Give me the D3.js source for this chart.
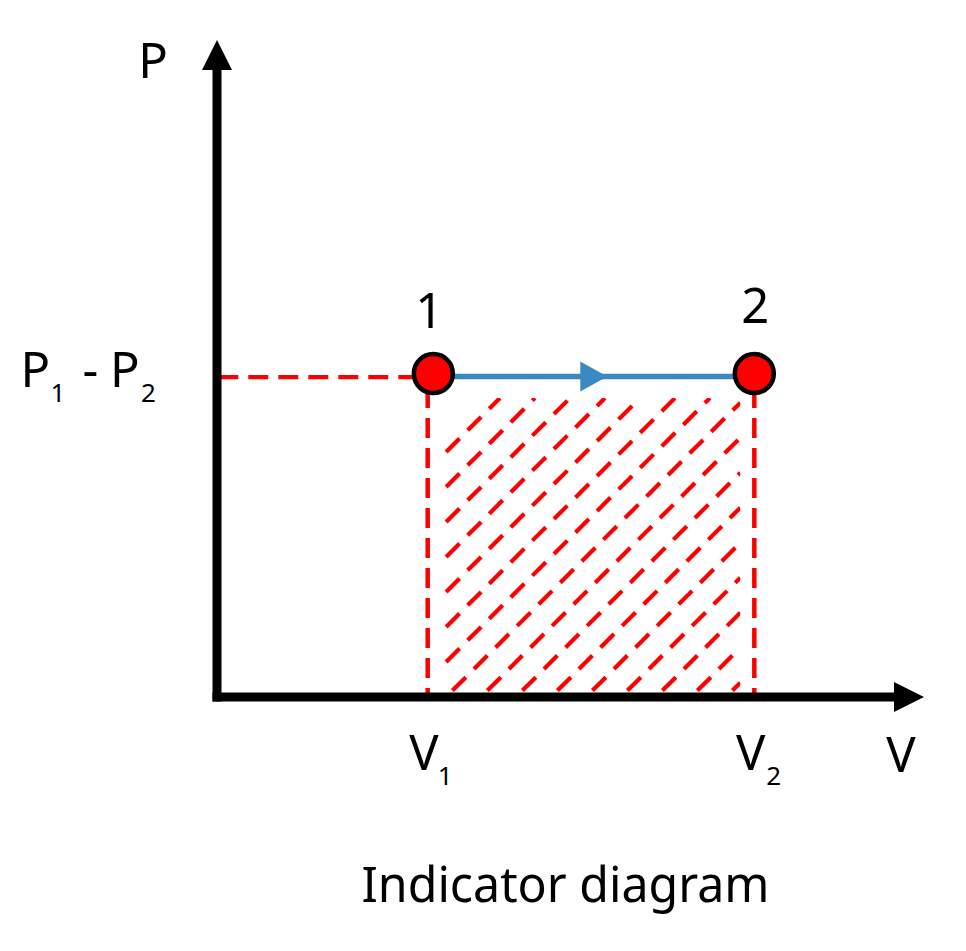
<!DOCTYPE html>
<html>
<head>
<meta charset="utf-8">
<script src="https://cdn.jsdelivr.net/npm/d3@7"></script>
<style>
  html, body { margin: 0; padding: 0; background: #ffffff; }
  svg { display: block; }
  text { font-family: "Noto Sans", "Open Sans", sans-serif; fill: #000; }
</style>
</head>
<body>
<script>
// ---- data ----
const stateLabels = ["1", "2"];
const stateV = [30.6, 76];        // volume of state points
const stateP = [49, 49];          // pressure of state points (constant)
const boundV = [29.8, 76];        // V1, V2 drop lines
const boundVLabels = ["V", "V"];
const boundVSubs = ["1", "2"];
const pLevel = 49;                // P1 - P2 level
const pLevelParts = ["P", "1", "-", "P", "2"];
const axisLabels = ["P", "V"];
const title = "Indicator diagram";

// ---- setup ----
const W = 966, H = 951;
const svg = d3.select("body").append("svg").attr("width", W).attr("height", H);

const x = d3.scaleLinear().domain([0, 100]).range([217, 924]);
const y = d3.scaleLinear().domain([0, 100]).range([697, 40]);

const RED = "#ff0000";
const BLUE = "#3a89c2";
const AX = 9, HEAD = 30, HALF = 15;

// ---- hatch (area under the process) ----
const hx0 = x(boundV[0]) + 17, hx1 = x(boundV[1]) - 14;
const hy0 = y(pLevel) + 23, hy1 = y(0) - 5;
svg.append("defs").append("clipPath").attr("id", "hclip")
  .append("rect").attr("x", hx0).attr("y", hy0).attr("width", hx1 - hx0).attr("height", hy1 - hy0);

const c0 = 898, step = 35;
const hatchC = d3.range(c0, hx1 + hy1 + 1, step);
const hatchSegs = hatchC.map(c => {
  let xa = Math.max(hx0, c - hy1), ya = c - xa;
  let xb = Math.min(hx1, c - hy0), yb = c - xb;
  return {xa, ya, xb, yb};
}).filter(s => s.xb > s.xa);

svg.append("g").attr("clip-path", "url(#hclip)")
  .selectAll("line").data(hatchSegs).join("line")
  .attr("x1", d => d.xa).attr("y1", d => d.ya)
  .attr("x2", d => d.xb).attr("y2", d => d.yb)
  .attr("stroke", RED).attr("stroke-width", 4.2)
  .attr("stroke-dasharray", "19 11.5").attr("stroke-dashoffset", -2);

// ---- dashed guide lines ----
svg.append("line")
  .attr("x1", x(0)).attr("x2", x(stateV[0]))
  .attr("y1", y(pLevel) + 2).attr("y2", y(pLevel) + 2)
  .attr("stroke", RED).attr("stroke-width", 4.2)
  .attr("stroke-dasharray", "20 10").attr("stroke-dashoffset", -1.3);

svg.selectAll("line.drop").data(boundV).join("line").attr("class", "drop")
  .attr("x1", d => x(d)).attr("x2", d => x(d))
  .attr("y1", y(pLevel)).attr("y2", y(0))
  .attr("stroke", RED).attr("stroke-width", 4.5)
  .attr("stroke-dasharray", "20 10").attr("stroke-dashoffset", 17);

// ---- axes ----
const gAx = svg.append("g");
gAx.append("line")
  .attr("x1", x(0)).attr("x2", x(0))
  .attr("y1", y(0) + AX / 2).attr("y2", y(100) + HEAD)
  .attr("stroke", "#000").attr("stroke-width", AX);
gAx.append("path")
  .attr("d", `M${x(0)},${y(100)} L${x(0) + HALF},${y(100) + HEAD} L${x(0) - HALF},${y(100) + HEAD} Z`)
  .attr("fill", "#000");
gAx.append("line")
  .attr("x1", x(0) - AX / 2).attr("x2", x(100) - HEAD)
  .attr("y1", y(0)).attr("y2", y(0))
  .attr("stroke", "#000").attr("stroke-width", AX);
gAx.append("path")
  .attr("d", `M${x(100)},${y(0)} L${x(100) - HEAD},${y(0) - HALF} L${x(100) - HEAD},${y(0) + HALF} Z`)
  .attr("fill", "#000");

// ---- process line with arrow ----
const px1 = x(stateV[0]), px2 = x(stateV[1]), py = y(stateP[0]) + 1.5;
svg.append("line")
  .attr("x1", px1).attr("x2", px2).attr("y1", py).attr("y2", py)
  .attr("stroke", BLUE).attr("stroke-width", 5.5);
const mid = (px1 + px2) / 2;
svg.append("path")
  .attr("d", `M${mid + 13.5},${py} L${mid - 13.5},${py - 15} L${mid - 13.5},${py + 15} Z`)
  .attr("fill", BLUE);

// ---- state points ----
svg.selectAll("circle.state").data(stateV).join("circle").attr("class", "state")
  .attr("cx", d => x(d)).attr("cy", (d, i) => y(stateP[i]) - 1.5)
  .attr("r", 19.5)
  .attr("fill", RED).attr("stroke", "#000").attr("stroke-width", 4.5);

const labelDy = [-47.5, -52];
svg.selectAll("text.state").data(stateLabels).join("text").attr("class", "state")
  .attr("x", (d, i) => x(stateV[i]) - 4 + i * 5)
  .attr("y", (d, i) => y(stateP[i]) + labelDy[i])
  .attr("text-anchor", "middle").attr("font-size", 49)
  .text(d => d);

// ---- axis labels ----
svg.append("text").attr("x", 153).attr("y", 77.5)
  .attr("text-anchor", "middle").attr("font-size", 49).text(axisLabels[0]);
svg.append("text").attr("x", 901).attr("y", 771.5)
  .attr("text-anchor", "middle").attr("font-size", 49).text(axisLabels[1]);

// V1, V2 labels
const vl = svg.selectAll("text.vl").data(boundV).join("text").attr("class", "vl")
  .attr("y", 770).attr("font-size", 49);
vl.append("tspan").attr("x", d => x(d) + 11).attr("text-anchor", "end")
  .text((d, i) => boundVLabels[i]);
vl.append("tspan").attr("x", (d, i) => x(d) + 10 + i * 2).attr("dy", 15).attr("font-size", 26)
  .attr("text-anchor", "start").text((d, i) => boundVSubs[i]);

// P1 - P2 label
const pt = svg.append("text").attr("y", y(pLevel) + 12).attr("font-size", 49);
pt.append("tspan").attr("x", 20.5).text(pLevelParts[0]);
pt.append("tspan").attr("x", 50.5).attr("dy", 15).attr("font-size", 26).text(pLevelParts[1]);
pt.append("tspan").attr("x", 82.5).attr("dy", -15).text(pLevelParts[2]);
pt.append("tspan").attr("x", 110).text(pLevelParts[3]);
pt.append("tspan").attr("x", 141).attr("dy", 15).attr("font-size", 26).text(pLevelParts[4]);

// title
svg.append("text").attr("x", 565.5).attr("y", 901.5)
  .attr("text-anchor", "middle").attr("font-size", 48.3).text(title);
</script>
</body>
</html>
